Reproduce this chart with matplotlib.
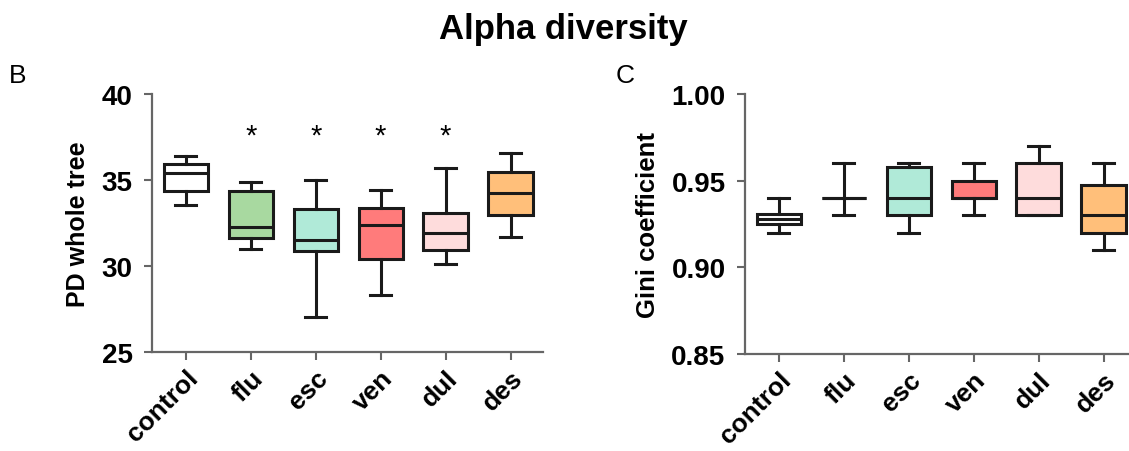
import matplotlib
matplotlib.use("Agg")
import matplotlib.pyplot as plt

plt.rcParams['font.family'] = ['Liberation Sans', 'DejaVu Sans']

groups = ["control", "flu", "esc", "ven", "dul", "des"]
colors = ["#ffffff", "#a8d9a0", "#b0ead8", "#ff7b7b", "#fedcdc", "#ffbf7a"]

# PD whole tree: whisker low, Q1, median, Q3, whisker high
pd_low = [33.55, 31.0, 27.05, 28.3, 30.1, 31.7]
pd_q1 = [34.35, 31.65, 30.85, 30.4, 30.95, 32.95]
pd_med = [35.4, 32.25, 31.5, 32.4, 31.9, 34.25]
pd_q3 = [35.95, 34.35, 33.3, 33.4, 33.1, 35.45]
pd_high = [36.4, 34.9, 35.0, 34.4, 35.7, 36.55]
pd_sig = ["", "*", "*", "*", "*", ""]
pd_star_y = 37.6

# Gini coefficient
gini_low = [0.920, 0.930, 0.920, 0.930, 0.930, 0.910]
gini_q1 = [0.925, 0.940, 0.930, 0.940, 0.930, 0.920]
gini_med = [0.928, 0.940, 0.940, 0.940, 0.940, 0.930]
gini_q3 = [0.931, 0.940, 0.958, 0.950, 0.960, 0.9475]
gini_high = [0.940, 0.960, 0.960, 0.960, 0.970, 0.960]

W, H = 1129, 452
fig = plt.figure(figsize=(W / 100, H / 100), dpi=100)

def px(x0, y_top, x1, y_bot):
    return [x0 / W, 1 - y_bot / H, (x1 - x0) / W, (y_bot - y_top) / H]

ax1 = fig.add_axes(px(152, 95, 543, 353))
ax2 = fig.add_axes(px(745, 95, 1136, 355))

def draw(ax, low, q1, med, q3, high):
    stats = []
    for i in range(len(groups)):
        stats.append(dict(whislo=low[i], q1=q1[i], med=med[i], q3=q3[i],
                          whishi=high[i], fliers=[], label=groups[i]))
    bp = ax.bxp(stats, positions=range(len(groups)), widths=0.68,
                patch_artist=True, showfliers=False,
                boxprops=dict(linewidth=2.2, edgecolor="#1a1a1a"),
                medianprops=dict(linewidth=2.2, color="#1a1a1a"),
                whiskerprops=dict(linewidth=2.2, color="#1a1a1a"),
                capprops=dict(linewidth=2.2, color="#1a1a1a"),
                capwidths=0.32)
    for patch, c in zip(bp['boxes'], colors):
        patch.set_facecolor(c)
    ax.set_xlim(-0.52, 5.5)
    for s in ["top", "right"]:
        ax.spines[s].set_visible(False)
    for s in ["left", "bottom"]:
        ax.spines[s].set_color("#666666")
        ax.spines[s].set_linewidth(1.6)
    ax.tick_params(axis="both", direction="out", length=6, width=1.5,
                   color="#666666", labelsize=20)
    ax.tick_params(axis="y", pad=8)
    ax.set_xticks(range(len(groups)))
    ax.set_xticklabels(groups, rotation=45, ha="right", rotation_mode="anchor",
                       fontweight="bold", fontsize=19)

draw(ax1, pd_low, pd_q1, pd_med, pd_q3, pd_high)
ax1.set_ylim(25, 40)
ax1.set_yticks([25, 30, 35, 40])
for lab in ax1.get_yticklabels():
    lab.set_fontweight("bold")
ax1.set_ylabel("PD whole tree", fontsize=18, fontweight="bold", labelpad=8)
for i, s in enumerate(pd_sig):
    if s:
        ax1.text(i, pd_star_y, s, ha="center", va="center", fontsize=21)

draw(ax2, gini_low, gini_q1, gini_med, gini_q3, gini_high)
ax2.set_ylim(0.85, 1.00)
ax2.set_yticks([0.85, 0.90, 0.95, 1.00])
ax2.set_yticklabels(["0.85", "0.90", "0.95", "1.00"])
for lab in ax2.get_yticklabels():
    lab.set_fontweight("bold")
ax2.set_ylabel("Gini coefficient", fontsize=18.5, fontweight="bold", labelpad=8)

fig.text(563 / W, 1 - 30 / H, "Alpha diversity", ha="center", va="center",
         fontsize=25, fontweight="bold")
fig.text(18 / W, 1 - 76 / H, "B", ha="center", va="center", fontsize=19)
fig.text(625 / W, 1 - 76 / H, "C", ha="center", va="center", fontsize=19)

fig.savefig("out.png", dpi=100)
